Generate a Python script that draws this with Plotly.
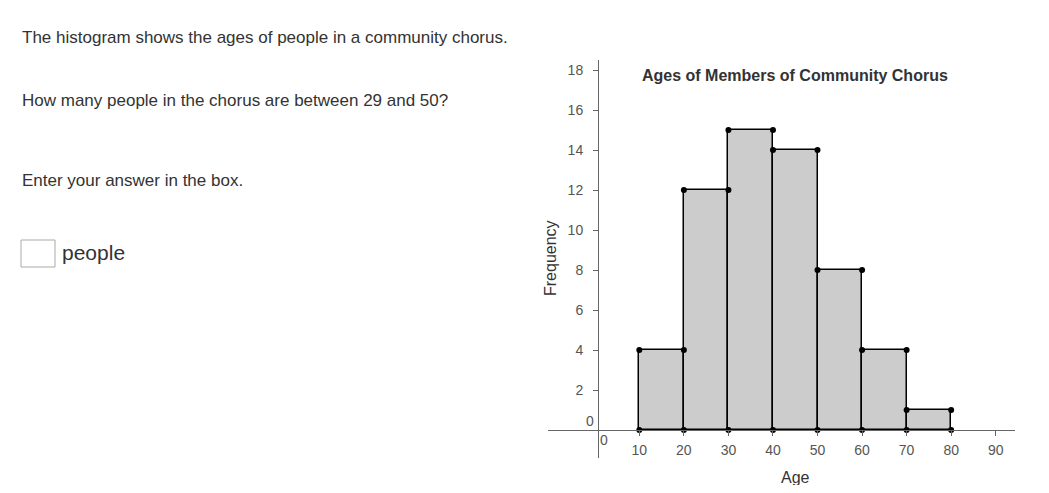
import plotly.graph_objects as go

# ---- data ----
bin_left = [10, 20, 30, 40, 50, 60, 70]
bin_right = [20, 30, 40, 50, 60, 70, 80]
frequency = [4, 12, 15, 14, 8, 4, 1]
x_ticks = [10, 20, 30, 40, 50, 60, 70, 80, 90]
y_ticks = [2, 4, 6, 8, 10, 12, 14, 16, 18]

OFF = 8  # page body margin
W, H = 1049 - 2 * OFF, 493 - 2 * OFF
def px(x):
    return (x - OFF) / W
def py(y):
    return 1 - (y - OFF) / H

FONT = "Liberation Sans, Arial, sans-serif"
TXT = "#333333"
AX = "#666666"

fig = go.Figure()

mids = [(l + r) / 2 for l, r in zip(bin_left, bin_right)]
widths = [r - l for l, r in zip(bin_left, bin_right)]
fig.add_trace(go.Bar(x=mids, y=frequency, width=widths,
                     marker=dict(color="#cccccc", line=dict(color="black", width=1.5)),
                     hoverinfo="skip", showlegend=False))

# corner dots
dx, dy = [], []
for l, r, f in zip(bin_left, bin_right, frequency):
    dx += [l, r]
    dy += [f, f]
edges = sorted(set(bin_left + bin_right))
dx += edges
dy += [0] * len(edges)
fig.add_trace(go.Scatter(x=dx, y=dy, mode="markers",
                         marker=dict(color="black", size=6),
                         hoverinfo="skip", showlegend=False, cliponaxis=False))

fig.update_layout(
    width=W, height=H,
    margin=dict(l=0, r=0, t=0, b=0),
    paper_bgcolor="white", plot_bgcolor="white",
    bargap=0,
    font=dict(family=FONT, color=TXT),
    xaxis=dict(domain=[px(548), px(1015)], range=[-10.5, 94.33],
               anchor="free", position=py(430),
               showline=True, linecolor=AX, linewidth=1,
               showgrid=False, zeroline=False,
               tickmode="array", tickvals=x_ticks, ticktext=[str(v) for v in x_ticks],
               ticks="outside", ticklen=5, tickcolor=AX, ticklabelstandoff=2,
               tickfont=dict(size=14, color="#555555", family=FONT)),
    yaxis=dict(domain=[py(458), py(60)], range=[-1.4, 18.5],
               anchor="free", position=px(598),
               showline=True, linecolor=AX, linewidth=1,
               showgrid=False, zeroline=False,
               tickmode="array", tickvals=y_ticks, ticktext=[str(v) for v in y_ticks],
               ticks="outside", ticklen=5, tickcolor=AX, ticklabelstandoff=7,
               tickfont=dict(size=14, color="#555555", family=FONT)),
)

ann = [
    dict(x=px(20), y=py(38), text="The histogram shows the ages of people in a community chorus.",
         xanchor="left", yanchor="middle", font=dict(size=17, color=TXT)),
    dict(x=px(20), y=py(101), text="How many people in the chorus are between 29 and 50?",
         xanchor="left", yanchor="middle", font=dict(size=17, color=TXT)),
    dict(x=px(20), y=py(180), text="Enter your answer in the box.",
         xanchor="left", yanchor="middle", font=dict(size=17, color=TXT)),
    dict(x=px(60), y=py(252), text="people",
         xanchor="left", yanchor="middle", font=dict(size=21, color=TXT)),
    dict(x=px(795), y=py(75), text="<b>Ages of Members of Community Chorus</b>",
         xanchor="center", yanchor="middle", font=dict(size=16, color=TXT)),
    dict(x=px(795), y=py(477), text="Age",
         xanchor="center", yanchor="middle", font=dict(size=16, color=TXT)),
    dict(x=px(550), y=py(258), text="Frequency", textangle=-90,
         xanchor="center", yanchor="middle", font=dict(size=16, color=TXT)),
    dict(x=px(604), y=py(440), text="0",
         xanchor="center", yanchor="middle", font=dict(size=14, color="#555555")),
    dict(x=px(590), y=py(421), text="0",
         xanchor="center", yanchor="middle", font=dict(size=14, color="#555555")),
]
for a in ann:
    a.update(xref="paper", yref="paper", showarrow=False)
    fig.add_annotation(**a)

fig.add_shape(type="rect", xref="paper", yref="paper",
              x0=px(21), x1=px(55), y0=py(267), y1=py(240),
              line=dict(color="#aaaaaa", width=1), fillcolor="white")

fig.write_html("out.html")
